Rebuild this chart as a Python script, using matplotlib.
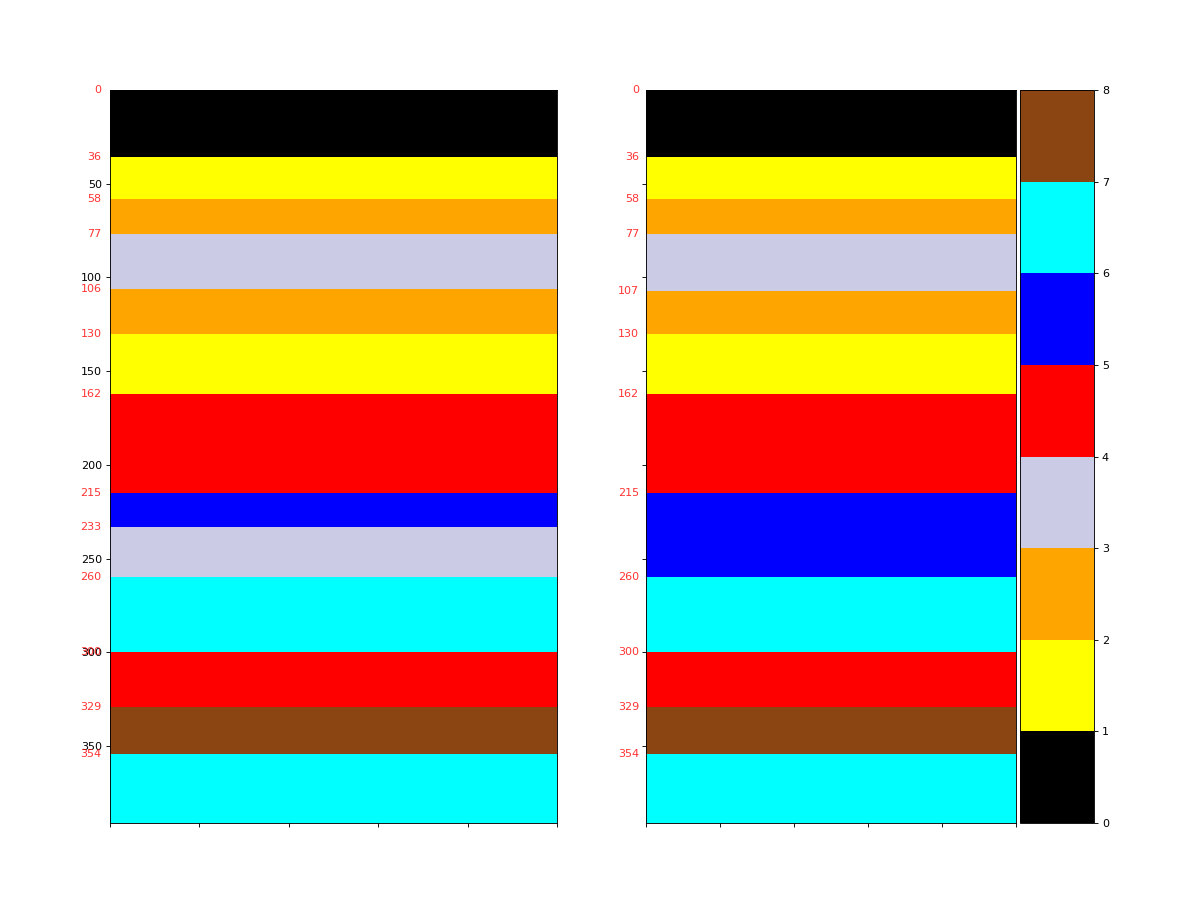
import numpy as np
import matplotlib
matplotlib.use("Agg")
import matplotlib.pyplot as plt
from matplotlib.colors import ListedColormap

# facies colours, code 0..7
facies_colors = ['#000000', '#FFFF00', '#FFA500', '#CBCBE6',
                 '#FF0000', '#0000FF', '#00FFFF', '#8B4513']

# layer tops and facies codes
left_tops = [0, 36, 58, 77, 106, 130, 162, 215, 233, 260, 300, 329, 354]
left_codes = [0, 1, 2, 3, 2, 1, 4, 5, 3, 6, 4, 7, 6]

right_tops = [0, 36, 58, 77, 107, 130, 162, 215, 260, 300, 329, 354]
right_codes = [0, 1, 2, 3, 2, 1, 4, 5, 6, 4, 7, 6]

total_depth = 391
depth_ticks = [50, 100, 150, 200, 250, 300, 350]

cmap = ListedColormap(facies_colors)


def column(tops, codes):
    # one facies code per unit of depth
    depth = np.arange(total_depth)
    idx = np.searchsorted(tops, depth, side='right') - 1
    col = np.array(codes)[idx]
    return np.repeat(col[:, None], 5, axis=1)


def draw(ax, tops, codes, show_labels):
    im = ax.imshow(column(tops, codes), cmap=cmap, vmin=0, vmax=8,
                   aspect='auto', extent=[0, 5, total_depth, 0],
                   interpolation='nearest')
    ax.set_xticks(range(6))
    ax.set_xticklabels([])
    ax.set_yticks(depth_ticks)
    if not show_labels:
        ax.set_yticklabels([])
    for t in tops:
        ax.annotate(str(t), xy=(-0.019, t), xycoords=('axes fraction', 'data'),
                    ha='right', va='center', color='red', alpha=0.8,
                    fontsize=10)
    return im


fig = plt.figure(figsize=(1196 / 80, 903 / 80), dpi=80)
W, H = 1196.0, 903.0
bottom = 1 - 823 / H
height = 733 / H

ax1 = fig.add_axes([110 / W, bottom, 447 / W, height])
ax2 = fig.add_axes([646 / W, bottom, 370 / W, height])
cax = fig.add_axes([1020 / W, bottom, 74 / W, height])

draw(ax1, left_tops, left_codes, True)
im = draw(ax2, right_tops, right_codes, False)

cb = fig.colorbar(im, cax=cax, ticks=range(9))

fig.savefig('out.png', dpi=80)
